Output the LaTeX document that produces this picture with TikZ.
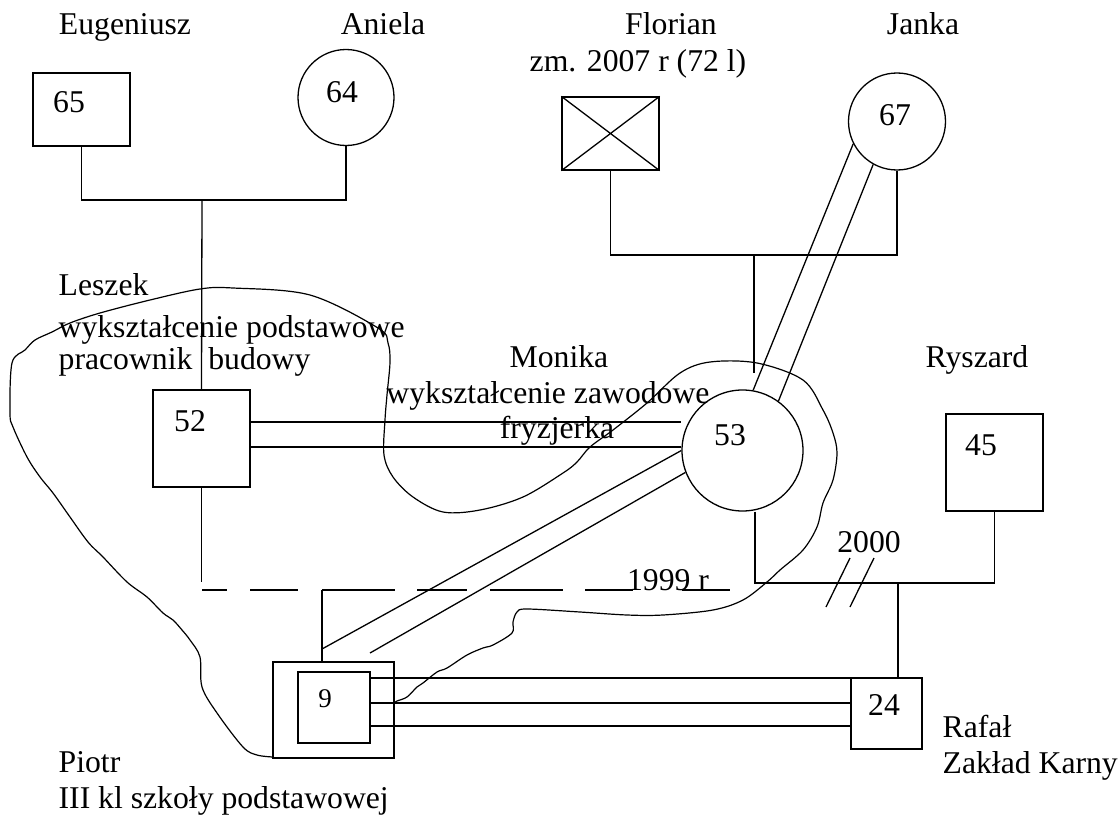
\documentclass[tikz,border=0pt]{standalone}
\usepackage{fontspec}
\setmainfont{Liberation Serif}
\newcommand\txtsize{\fontsize{31.7}{36}\selectfont}
\newcommand\smsize{\fontsize{27}{30}\selectfont}
\begin{document}
\begin{tikzpicture}[x=1pt,y=-1pt, line width=1.3pt,
  person/.style={draw, inner sep=0pt, line width=1.3pt},
  lbl/.style={inner sep=0pt, anchor=base, font=\txtsize},
  lbll/.style={inner sep=0pt, anchor=base west, font=\txtsize},
  num/.style={inner sep=0pt, anchor=base, font=\txtsize},
  boundary/.style={line width=1.2pt, smooth, tension=0.55}]
\useasboundingbox (0,0) rectangle (1119,816);

% persons
\node[person, minimum width=97pt, minimum height=73pt] (p65) at (81.5,109.5) {};
\node[person, circle, minimum size=96pt] (p64) at (346,97.5) {};
\node[person, minimum width=97pt, minimum height=97pt] (p52) at (201.5,438.5) {};
\node[person, circle, minimum size=121pt] (p53) at (742.5,450.5) {};
\node[person, minimum width=97pt, minimum height=73pt] (pF) at (610.5,133.5) {};
\draw (pF.north west) -- (pF.south east) (pF.north east) -- (pF.south west);
\node[person, circle, minimum size=97pt] (p67) at (897,121.5) {};
\node[person, minimum width=97pt, minimum height=97pt] (p45) at (994.5,462.5) {};
\node[person, minimum width=71pt, minimum height=71pt] (p24) at (886.5,713.5) {};
\node[person, minimum width=121pt, minimum height=96pt] (p9o) at (333.5,710) {};
\node[person, minimum width=72pt, minimum height=71pt] (p9i) at (334,707.5) {};

% numbers
\node[num] (n65) at (69,112) {65};
\node[num] (n64) at (342,102) {64};
\node[num] (n52) at (190,431) {52};
\node[num] (n53) at (730,445) {53};
\node[num] (n67) at (895,125) {67};
\node[num] (n45) at (981,455) {45};
\node[num] (n24) at (884,715) {24};
\node[num, font=\smsize] (n9) at (325,707) {9};

% labels
\node[lbl] (tE) at (125,35) {Eugeniusz};
\node[lbl] (tA) at (383,35) {Aniela};
\node[lbl] (tF1) at (671,35) {Florian};
\node[lbl] (tF2) at (638,72) {zm. 2007 r (72 l)};
\node[lbl] (tJ) at (923,35) {Janka};
\node[lbll] (tL1) at (58,295) {Leszek};
\node[lbll] (tL2) at (58,337) {wykształcenie podstawowe};
\node[lbll] (tL3) at (58,369) {pracownik\ \ budowy};
\node[lbl] (tM1) at (559,367) {Monika};
\node[lbl] (tM2) at (548,403) {wykształcenie zawodowe};
\node[lbl] (tM3) at (557,438) {fryzjerka};
\node[lbl] (tR) at (977,367) {Ryszard};
\node[lbl] (t2000) at (869,552) {2000};
\node[lbl] (t1999) at (668,590) {1999 r};
\node[lbll] (tRa1) at (942,737) {Rafał};
\node[lbll] (tRa2) at (942,773) {Zakład Karny};
\node[lbll] (tP1) at (58,772) {Piotr};
\node[lbll] (tP2) at (58,808) {III kl szkoły podstawowej};

% grandparents (left)
\coordinate (g1) at (202,200);
\draw (p65.south) -- (p65.south |- g1) -- (p64.south |- g1) -- (p64.south);
\draw (g1) -- (p52.north);
\coordinate (d52) at (202,582);
\draw (p52.south) -- (p52.south |- d52);

% separated relation 1999
\coordinate (dl0) at (202,590);
\coordinate (dl1) at (730,590);
\draw[dash pattern=on 25pt off 23pt on 48pt off 24pt on 73pt off 22pt on 50pt off 23pt on 73pt off 22pt on 48pt off 49pt on 48pt off 200pt] (dl0) -- (dl1);

% grandparents (right)
\coordinate (g2) at (754,255);
\coordinate (g2e) at (754,373);
\draw (pF.south) -- (pF.south |- g2) -- (p67.south |- g2) -- (p67.south);
\draw (g2) -- (g2e);

% close relations
\draw (p67.207) -- (p53.80);
\draw (p67.241) -- (p53.54);
\draw ([yshift=16.5pt]p52.east) -- ([yshift=16.5pt]p52.east -| p53.west);
\draw ([yshift=-8.5pt]p52.east) -- ([yshift=-8.5pt]p52.east -| p53.west);

% child 9
\coordinate (v9) at (322,590);
\draw (v9) -- (v9 |- p9o.north);
\coordinate (c9) at (322,649);
\coordinate (d9) at (370,653);
\draw (c9) -- (p53.180);
\draw (d9) -- (p53.201);

% triple line 9 - 24
\coordinate (t1) at (0,678);
\coordinate (t2) at (0,703);
\coordinate (t3) at (0,726);
\draw (p9i.east |- t1) -- (p24.west |- t1);
\draw (p9i.east |- t2) -- (p24.west |- t2);
\draw (p9i.east |- t3) -- (p24.west |- t3);

% relation 53 - 45
\coordinate (g3) at (755,583);
\coordinate (g3c) at (898,583);
\draw (g3 |- p53.south) -- (g3) -- (p45.south |- g3) -- (p45.south);
\draw (g3c) -- (g3c |- p24.north);
\coordinate (s1a) at (850,558); \coordinate (s1b) at (826,607);
\coordinate (s2a) at (874,558); \coordinate (s2b) at (850,607);
\draw (s1a) -- (s1b) (s2a) -- (s2b);

% household boundary
\draw[boundary] plot coordinates {
(273,757) (257,755) (243,747) (217,713) (202,687) (200,657) (190,640) (182,630)
(173,620) (163,613) (147,597) (127,582) (103,557) (88,542) (70,517) (53,493)
(40,477) (27,457) (13,427) (10,413) (12,363) (25,350) (35,340) (52,332) (70,323)
(100,313) (150,300) (200,289) (233,288) (310,295) (378,328) (388,343) (390,362)
(387,395) (385,420) (384,455) (393,477) (413,497) (443,512) (480,510) (523,497)
(563,473) (577,462) (590,447) (613,430) (647,403) (680,373) (710,362) (757,363)
(803,380) (823,410) (833,433) (837,453) (833,480) (823,503) (817,527) (803,550)
(780,570) (767,582) (743,600) (713,610) (663,615) (627,615) (580,612) (527,609)
(517,612) (513,622) (512,633) (493,645) (483,648) (467,655) (447,668) (437,672)
(423,683) (417,687) (407,697) (397,701) (394,703)};
\end{tikzpicture}
\end{document}
